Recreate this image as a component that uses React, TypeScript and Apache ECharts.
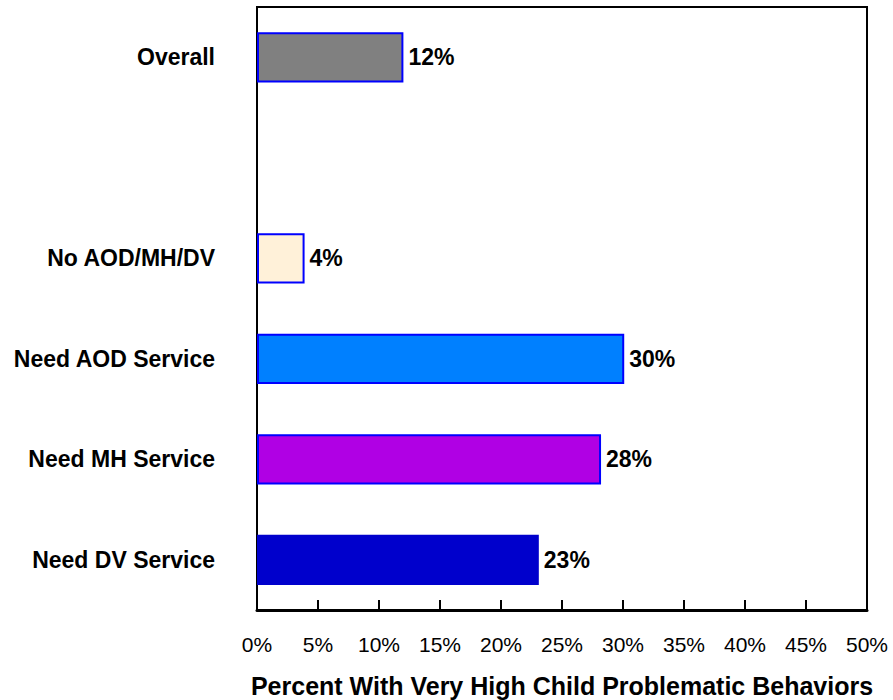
import React, { useEffect, useRef } from "react";
import * as echarts from "echarts";

const categories = ["Overall", "", "No AOD/MH/DV", "Need AOD Service", "Need MH Service", "Need DV Service"];
const values: (number | null)[] = [12, null, 3.9, 30.1, 28.2, 23.1];
const barColors = ["#808080", "#ffffff", "#FFF1D9", "#0080FF", "#B000E4", "#0000CC"];
const borderColors = ["#0000FF", "#0000FF", "#0000FF", "#0000FF", "#0000FF", "#0000CC"];
const xTicks = [0, 5, 10, 15, 20, 25, 30, 35, 40, 45, 50];
const axisTitle = "Percent With Very High Child Problematic Behaviors";

const FONT = "'Liberation Sans', Arial, sans-serif";

export default function App() {
  const ref = useRef<HTMLDivElement>(null);
  useEffect(() => {
    if (!ref.current) return;
    const chart = echarts.init(ref.current, undefined, { renderer: "svg" });
    chart.setOption({
      animation: false,
      backgroundColor: "#ffffff",
      grid: {
        left: 257,
        right: 26,
        top: 7,
        bottom: 90,
        outerBoundsMode: "none",
        containLabel: false,
        show: true,
        borderColor: "#000",
        borderWidth: 2,
        backgroundColor: "transparent",
      },
      xAxis: {
        type: "value",
        min: xTicks[0],
        max: xTicks[xTicks.length - 1],
        interval: 5,
        splitLine: { show: false },
        axisLine: { show: true, lineStyle: { color: "#000", width: 3 } },
        axisTick: { show: true, inside: true, length: 10, lineStyle: { color: "#000", width: 2 } },
        axisLabel: {
          formatter: (v: number) => `${v}%`,
          color: "#000",
          fontFamily: FONT,
          fontSize: 21,
          margin: 24,
        },
        name: axisTitle,
        nameLocation: "middle",
        nameGap: 63,
        nameTextStyle: { color: "#000", fontFamily: FONT, fontSize: 25, fontWeight: "bold" },
      },
      yAxis: {
        type: "category",
        inverse: true,
        data: categories,
        axisLine: { show: true, lineStyle: { color: "#000", width: 2 } },
        axisTick: { show: false },
        axisLabel: {
          color: "#000",
          fontFamily: FONT,
          fontSize: 23,
          fontWeight: "bold",
          margin: 42,
        },
      },
      series: [
        {
          type: "bar",
          barCategoryGap: "50%",
          data: values.map((v, i) => ({
            value: v,
            itemStyle: { color: barColors[i], borderColor: borderColors[i], borderWidth: 2 },
          })),
          label: {
            show: true,
            position: "right",
            distance: 5,
            formatter: (p: any) => (p.value == null ? "" : `${Math.round(p.value)}%`),
            color: "#000",
            fontFamily: FONT,
            fontSize: 23,
            fontWeight: "bold",
          },
        },
      ],
    });
    return () => chart.dispose();
  }, []);
  return (
    <div
      ref={ref}
      style={{ position: "fixed", left: 0, top: 0, width: 893, height: 700 }}
    />
  );
}
